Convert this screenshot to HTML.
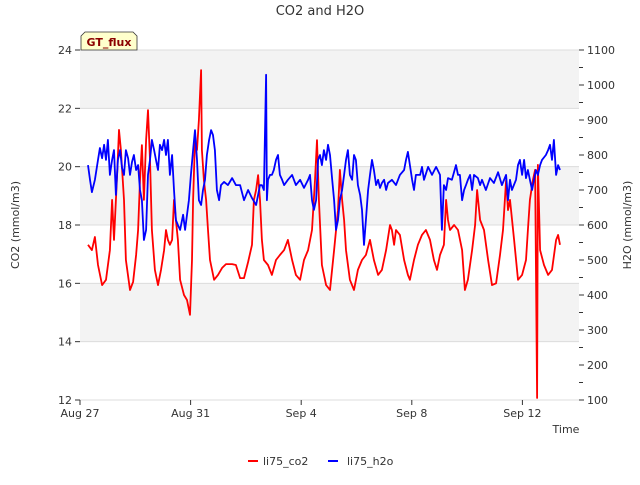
<!DOCTYPE html>
<html><head><meta charset="utf-8"><style>
body{margin:0;background:#fff;font-family:"Liberation Sans","DejaVu Sans",sans-serif;}
svg text{font-family:"DejaVu Sans","Liberation Sans",sans-serif;}
</style></head><body>
<svg id="chart" width="640" height="480" viewBox="0 0 640 480" xmlns="http://www.w3.org/2000/svg">
<rect width="640" height="480" fill="#fff"/>
<text x="320" y="15" text-anchor="middle" font-size="13" fill="#333">CO2 and H2O</text>
<g id="bands"></g><g id="grid"></g>
<g id="series"></g>
<g id="axes"></g>
<g>
<path d="M81,36 L85,32 L133,32 L137,36 L137,50 L81,50 Z" fill="#ffffcc" stroke="#333" stroke-width="0.8"/>
<text x="109" y="46" text-anchor="middle" font-size="11" font-weight="bold" fill="#8b0000">GT_flux</text>
</g>
<text transform="translate(19,225) rotate(-90)" text-anchor="middle" font-size="11" fill="#333">CO2 (mmol/m3)</text>
<text transform="translate(631,225) rotate(-90)" text-anchor="middle" font-size="11" fill="#333">H2O (mmol/m3)</text>
<text x="566" y="433" text-anchor="middle" font-size="11" fill="#333">Time</text>
<g><line x1="248" y1="461" x2="258" y2="461" stroke="#f00" stroke-width="2"/><text x="263" y="465" font-size="11" fill="#333">li75_co2</text></g>
<g><line x1="328" y1="461" x2="338" y2="461" stroke="#00f" stroke-width="2"/><text x="347" y="465" font-size="11" fill="#333">li75_h2o</text></g>
</svg>
<script>
const xTickLabels=["Aug 27","Aug 31","Sep 4","Sep 8","Sep 12"];
const xTickDays=[0,4,8,12,16];
const co2Ticks=[12,14,16,18,20,22,24];
const h2oTicks=[100,200,300,400,500,600,700,800,900,1000,1100];
const co2Data=[[.29,17.32],[.43,17.14],[.54,17.59],[.65,16.63],[.80,15.94],[.94,16.12],[1.08,17.14],[1.16,18.86],[1.23,17.49],[1.34,19.71],[1.41,21.26],[1.48,20.57],[1.59,18.86],[1.66,16.80],[1.81,15.77],[1.92,16.05],[2.03,16.97],[2.10,17.83],[2.17,19.54],[2.24,20.74],[2.31,18.86],[2.39,20.91],[2.46,21.94],[2.53,20.23],[2.60,17.83],[2.71,16.46],[2.82,15.94],[2.93,16.46],[3.04,17.14],[3.11,17.83],[3.18,17.49],[3.25,17.32],[3.33,17.49],[3.40,18.86],[3.47,18.17],[3.54,17.49],[3.62,16.12],[3.76,15.60],[3.87,15.43],[3.98,14.92],[4.05,16.80],[4.09,18.86],[4.16,20.91],[4.23,20.57],[4.30,21.60],[4.38,23.31],[4.41,20.57],[4.48,19.54],[4.56,18.86],[4.63,17.83],[4.70,16.80],[4.85,16.12],[4.99,16.29],[5.14,16.53],[5.28,16.66],[5.50,16.66],[5.64,16.63],[5.79,16.18],[5.93,16.18],[6.08,16.73],[6.22,17.32],[6.29,18.86],[6.37,19.20],[6.44,19.71],[6.51,18.86],[6.58,17.49],[6.65,16.80],[6.80,16.63],[6.94,16.29],[7.09,16.80],[7.23,16.97],[7.38,17.14],[7.52,17.49],[7.67,16.80],[7.81,16.29],[7.96,16.12],[8.10,16.80],[8.25,17.14],[8.39,17.83],[8.50,19.54],[8.57,20.91],[8.64,18.86],[8.75,16.63],[8.90,15.94],[9.04,15.77],[9.19,17.14],[9.33,18.51],[9.40,19.89],[9.48,18.86],[9.55,18.17],[9.62,17.14],[9.76,16.12],[9.91,15.77],[10.05,16.46],[10.20,16.80],[10.34,16.97],[10.49,17.49],[10.63,16.80],[10.78,16.29],[10.92,16.46],[11.07,17.14],[11.21,18.00],[11.28,17.83],[11.36,17.32],[11.43,17.83],[11.57,17.66],[11.72,16.80],[11.86,16.29],[11.93,16.12],[12.08,16.80],[12.22,17.32],[12.37,17.66],[12.51,17.83],[12.66,17.49],[12.80,16.80],[12.91,16.46],[13.02,16.97],[13.16,17.32],[13.24,18.86],[13.31,18.17],[13.38,17.83],[13.53,18.00],[13.67,17.83],[13.82,17.14],[13.92,15.77],[14.03,16.12],[14.18,17.14],[14.29,18.00],[14.36,19.20],[14.47,18.17],[14.61,17.83],[14.76,16.80],[14.90,15.94],[15.05,16.00],[15.19,16.97],[15.30,17.83],[15.41,19.54],[15.48,18.51],[15.55,18.86],[15.70,17.49],[15.84,16.12],[15.99,16.29],[16.13,16.80],[16.20,17.83],[16.27,18.86],[16.38,19.54],[16.46,19.89],[16.53,12.07],[16.56,20.06],[16.64,17.14],[16.78,16.63],[16.93,16.29],[17.07,16.46],[17.22,17.49],[17.29,17.66],[17.36,17.32]];
const h2oData=[[.29,771],[.36,729],[.43,694],[.54,729],[.65,786],[.72,820],[.80,791],[.87,829],[.94,786],[1.01,843],[1.08,743],[1.16,786],[1.23,814],[1.30,686],[1.37,786],[1.45,814],[1.52,763],[1.59,743],[1.66,814],[1.74,791],[1.81,743],[1.88,780],[1.95,800],[2.03,757],[2.10,771],[2.17,700],[2.24,671],[2.31,557],[2.39,586],[2.46,743],[2.53,786],[2.60,843],[2.68,814],[2.75,786],[2.82,757],[2.89,829],[2.97,814],[3.04,843],[3.11,800],[3.18,843],[3.25,743],[3.33,800],[3.40,700],[3.47,614],[3.54,600],[3.62,586],[3.73,629],[3.80,586],[3.87,629],[3.94,671],[4.01,743],[4.09,814],[4.16,871],[4.23,786],[4.30,671],[4.38,657],[4.45,700],[4.52,729],[4.59,800],[4.67,843],[4.74,871],[4.81,857],[4.88,814],[4.95,700],[5.03,671],[5.10,714],[5.21,723],[5.35,714],[5.50,734],[5.64,714],[5.79,714],[5.93,671],[6.08,700],[6.22,677],[6.37,657],[6.44,686],[6.51,714],[6.58,714],[6.65,700],[6.73,1029],[6.76,671],[6.80,729],[6.87,743],[6.94,743],[7.01,757],[7.09,786],[7.16,800],[7.23,743],[7.31,729],[7.38,714],[7.52,729],[7.67,743],[7.81,714],[7.96,729],[8.10,706],[8.25,729],[8.32,743],[8.39,671],[8.46,643],[8.54,671],[8.61,786],[8.68,800],[8.75,771],[8.82,814],[8.90,786],[8.97,829],[9.04,800],[9.12,729],[9.19,671],[9.26,586],[9.33,614],[9.40,671],[9.48,700],[9.55,743],[9.62,786],[9.69,814],[9.76,743],[9.84,729],[9.91,800],[9.98,786],[10.05,714],[10.13,686],[10.20,643],[10.27,543],[10.34,614],[10.42,700],[10.49,743],[10.56,786],[10.63,757],[10.71,714],[10.78,729],[10.85,706],[10.92,720],[11.00,729],[11.07,700],[11.14,720],[11.28,729],[11.43,714],[11.57,743],[11.72,757],[11.79,786],[11.86,809],[11.93,771],[12.01,729],[12.08,700],[12.15,743],[12.30,743],[12.37,766],[12.44,729],[12.59,766],[12.73,743],[12.88,766],[13.02,743],[13.09,586],[13.16,714],[13.24,700],[13.31,734],[13.45,729],[13.60,771],[13.67,743],[13.74,743],[13.82,671],[13.89,700],[13.96,714],[14.03,729],[14.11,743],[14.18,700],[14.25,743],[14.39,734],[14.47,714],[14.54,729],[14.68,700],[14.83,734],[14.97,720],[15.12,751],[15.26,714],[15.41,743],[15.48,671],[15.55,729],[15.62,700],[15.77,729],[15.84,771],[15.91,786],[15.99,743],[16.06,786],[16.13,734],[16.20,757],[16.27,729],[16.35,700],[16.42,729],[16.49,757],[16.56,743],[16.64,771],[16.71,786],[16.85,800],[16.93,814],[17.00,829],[17.07,786],[17.14,843],[17.22,743],[17.29,771],[17.36,757]];

const X0=80,X1=579,Y0=50,Y1=400,NS="http://www.w3.org/2000/svg";
const xs=d=>X0+d*27.65;
const yL=v=>Y1-(v-12)/12*(Y1-Y0);
const yR=v=>Y1-(v-100)/1000*(Y1-Y0);
function mk(tag,attrs,parent){const e=document.createElementNS(NS,tag);for(const k in attrs)e.setAttribute(k,attrs[k]);parent.appendChild(e);return e;}
const bands=document.getElementById('bands'),grid=document.getElementById('grid'),axes=document.getElementById('axes'),series=document.getElementById('series');
mk('rect',{x:X0,y:Y0,width:X1-X0,height:Y1-Y0,fill:'#fff'},bands);
[[14,16],[18,20],[22,24]].forEach(b=>{const r=mk('rect',{x:X0,y:yL(b[1]),width:X1-X0,height:yL(b[0])-yL(b[1]),fill:'#f3f3f3'},bands);

});
co2Ticks.forEach(t=>{const g=mk('line',{x1:X0,x2:X1,y1:yL(t),y2:yL(t),stroke:'#dcdcdc','stroke-width':1},grid);


mk('line',{x1:X0-5,x2:X0,y1:yL(t),y2:yL(t),stroke:'#333'},axes);
const tx=mk('text',{x:X0-8,y:yL(t)+4,'text-anchor':'end','font-size':11,fill:'#333'},axes);tx.textContent=t;

});
h2oTicks.forEach(t=>{mk('line',{x1:X1,x2:X1+5,y1:yR(t),y2:yR(t),stroke:'#333'},axes);
if(t<1100)mk('line',{x1:X1,x2:X1+4,y1:yR(t+50),y2:yR(t+50),stroke:'#333'},axes);
const tx=mk('text',{x:X1+8,y:yR(t)+4,'font-size':11,fill:'#333'},axes);tx.textContent=t;

});
xTickDays.forEach((d,i)=>{mk('line',{x1:xs(d),x2:xs(d),y1:Y1,y2:Y1+5,stroke:'#333'},axes);
const tx=mk('text',{x:xs(d),y:Y1+17,'text-anchor':'middle','font-size':11,fill:'#333'},axes);tx.textContent=xTickLabels[i];

});
const co2Line=mk('polyline',{points:co2Data.map(p=>xs(p[0]).toFixed(1)+','+yL(p[1]).toFixed(1)).join(' '),fill:'none',stroke:'#f00','stroke-width':1.8,'stroke-linejoin':'round'},series);


const h2oLine=mk('polyline',{points:h2oData.map(p=>xs(p[0]).toFixed(1)+','+yR(p[1]).toFixed(1)).join(' '),fill:'none',stroke:'#00f','stroke-width':1.8,'stroke-linejoin':'round'},series);


</script>
</body></html>
